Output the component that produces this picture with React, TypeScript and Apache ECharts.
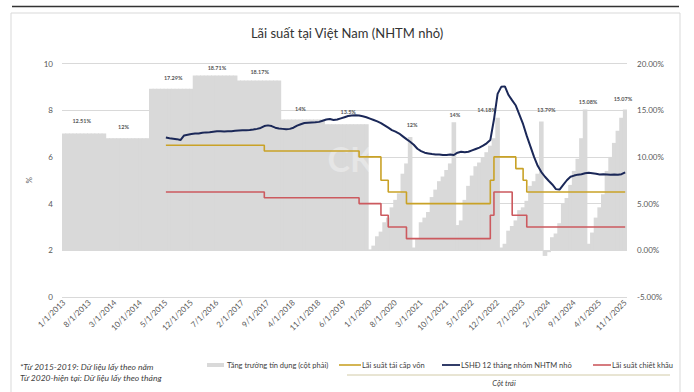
import React, { useEffect, useRef } from "react";
import * as echarts from "echarts";

// ---- categories: monthly, Jan 2013 .. Nov 2025 ----
const firstYear = 2013;
const monthCount = 155;
const categories: string[] = [];
for (let i = 0; i < monthCount; i++) {
  categories.push(`${(i % 12) + 1}/1/${firstYear + Math.floor(i / 12)}`);
}

// ---- credit growth (right axis, %) ----
// 2013-2019: annual figures (shown as yearly blocks)
const annualYears = [2013, 2014, 2015, 2016, 2017, 2018, 2019];
const annualGrowth = [12.51, 12, 17.29, 18.71, 18.17, 14, 13.5];
// 2020-now: year-to-date monthly figures
const growth2020 = [0.1, 0.5, 1.5, 2.0, 3.0, 3.5, 4.6, 5.4, 6.1, 8.2, 9.3, 12.13];
const growth2021 = [0.3, 1.2, 3.0, 3.5, 4.1, 5.7, 6.5, 7.4, 7.9, 8.6, 9.3, 13.7];
const growth2022 = [2.7, 3.2, 5.4, 6.9, 8.0, 9.0, 9.4, 9.9, 10.5, 11.2, 12.0, 14.18];
const growth2023 = [0.3, 0.7, 2.1, 2.6, 3.2, 4.3, 4.6, 5.3, 6.9, 7.4, 8.2, 13.79];
const growth2024 = [-0.6, -0.2, 1.4, 1.8, 2.9, 5.0, 5.6, 7.0, 8.5, 9.8, 12.0, 15.08];
const growth2025 = [0.7, 1.9, 3.5, 4.6, 6.0, 8.5, 10.0, 11.5, 12.8, 14.2, 15.07];

// bar value labels
const labelDates = ["7/1/2013", "7/1/2014", "7/1/2015", "7/1/2016", "7/1/2017", "7/1/2018", "7/1/2019",
  "12/1/2020", "12/1/2021", "12/1/2022", "12/1/2023", "12/1/2024", "11/1/2025"];
const labelTexts = ["12.51%", "12%", "17.29%", "18.71%", "18.17%", "14%", "13.5%",
  "12%", "14%", "14.18%", "13.79%", "15.08%", "15.07%"];
const labelDx = [-4, -6, 0, 0, -1, -4, 0, 2, 1, -11, 5, 3, -2];
const labelDist = [9, 8, 8, 5, 6, 8, 9, 9, 4, 5, 9, 4, 8];

// ---- policy rates (left axis, %) : change points ----
const refinancingDates = ["5/1/2015", "8/1/2017", "10/1/2019", "4/1/2020", "6/1/2020", "11/1/2020",
  "10/1/2022", "11/1/2022", "5/1/2023", "7/1/2023", "8/1/2023", "11/1/2025"];
const refinancingRates = [6.5, 6.25, 6.0, 5.0, 4.5, 4.0, 5.0, 6.0, 5.5, 5.0, 4.5, 4.5];

const discountDates = ["5/1/2015", "8/1/2017", "10/1/2019", "4/1/2020", "6/1/2020", "11/1/2020",
  "10/1/2022", "11/1/2022", "4/1/2023", "8/1/2023", "11/1/2025"];
const discountRates = [4.5, 4.25, 4.0, 3.5, 3.0, 2.5, 3.5, 4.5, 3.5, 3.0, 3.0];

// ---- 12-month deposit rate, small commercial banks (monthly from 5/2015) ----
const depositStart = "5/1/2015";
const deposit12m = [
  6.83, 6.80, 6.78, 6.76, 6.72, 6.92, 6.95, 6.98,
  7.00, 7.00, 7.03, 7.05, 7.06, 7.08, 7.10, 7.10, 7.09, 7.10, 7.10, 7.12,
  7.13, 7.14, 7.14, 7.15, 7.17, 7.20, 7.24, 7.32, 7.35, 7.32, 7.25, 7.22,
  7.20, 7.18, 7.20, 7.25, 7.34, 7.40, 7.45, 7.46, 7.47, 7.48, 7.50, 7.55,
  7.60, 7.62, 7.58, 7.60, 7.65, 7.70, 7.75, 7.77, 7.78, 7.77, 7.74, 7.70,
  7.64, 7.58, 7.52, 7.45, 7.35, 7.25, 7.15, 7.08, 7.00, 6.88, 6.76, 6.65,
  6.52, 6.35, 6.25, 6.18, 6.15, 6.12, 6.10, 6.10, 6.08, 6.08, 6.10, 6.08,
  6.18, 6.22, 6.20, 6.22, 6.28, 6.34, 6.40, 6.48, 6.58, 6.72, 7.60, 8.70,
  9.00, 9.02, 8.65, 8.42, 8.20, 7.80, 7.40, 6.90, 6.45, 6.00, 5.62, 5.35,
  5.15, 4.98, 4.82, 4.62, 4.60, 4.80, 5.00, 5.15, 5.20, 5.24, 5.26, 5.30,
  5.32, 5.30, 5.28, 5.25, 5.26, 5.25, 5.24, 5.25, 5.24, 5.26, 5.34,
];

const leftTicks = { min: 0, max: 10, interval: 2 };
const rightTicks = { min: -5, max: 20, interval: 5 };

const FONT = "Lato, 'Noto Sans', sans-serif";

function buildBarData() {
  const values: number[] = [];
  annualYears.forEach((_, k) => {
    for (let m = 0; m < 12; m++) values.push(annualGrowth[k]);
  });
  [growth2020, growth2021, growth2022, growth2023, growth2024, growth2025].forEach((arr) =>
    arr.forEach((v) => values.push(v))
  );
  return values.map((v, i) => {
    const li = labelDates.indexOf(categories[i]);
    if (li < 0) return v;
    return {
      value: v,
      label: {
        show: true,
        position: "top",
        distance: labelDist[li],
        offset: [labelDx[li], 0],
        formatter: labelTexts[li],
        fontSize: 5.5,
        fontWeight: "bold",
        color: "#555",
        fontFamily: FONT,
      },
    };
  });
}

export default function App() {
  const ref = useRef<HTMLDivElement>(null);
  useEffect(() => {
    if (!ref.current) return;
    const chart = echarts.init(ref.current, undefined, { renderer: "svg" });
    const depIdx = categories.indexOf(depositStart);
    const option: any = {
      animation: false,
      backgroundColor: "#fff",
      textStyle: { fontFamily: FONT },
      title: {
        text: "Lãi suất tại Việt Nam (NHTM nhỏ)",
        left: "center",
        top: 21,
        textStyle: { fontSize: 13, fontWeight: "normal", color: "#333", fontFamily: FONT },
      },
      grid: { left: 62, right: 67, top: 63.5, bottom: 95 },
      xAxis: {
        type: "category",
        data: categories,
        axisLine: { show: false },
        axisTick: { show: false },
        axisLabel: { interval: 6, rotate: 45, fontSize: 8, color: "#595959", margin: 4, fontFamily: FONT },
      },
      yAxis: [
        {
          type: "value",
          ...leftTicks,
          name: "%",
          nameLocation: "middle",
          nameGap: 24,
          nameRotate: 90,
          nameTextStyle: { fontSize: 8, color: "#595959" },
          axisLine: { show: false },
          axisTick: { show: false },
          axisLabel: { fontSize: 8, color: "#595959", margin: 9, fontFamily: FONT },
          splitLine: { lineStyle: { color: "#d9d9d9", width: 1 } },
        },
        {
          type: "value",
          ...rightTicks,
          axisLine: { show: false },
          axisTick: { show: false },
          axisLabel: { fontSize: 8, color: "#595959", margin: 10, formatter: "{value}.00%", fontFamily: FONT },
          splitLine: { show: false },
        },
      ],
      series: [
        {
          name: "Tăng trưởng tín dụng (cột phải)",
          type: "bar",
          yAxisIndex: 1,
          barWidth: 4.6,
          itemStyle: { color: "#d9d9d9" },
          data: buildBarData(),
        },
        {
          name: "Lãi suất tái cấp vốn",
          type: "line",
          step: "end",
          showSymbol: false,
          lineStyle: { color: "#c9a227", width: 1.6 },
          data: refinancingDates.map((d, i) => [categories.indexOf(d), refinancingRates[i]]),
        },
        {
          name: "LSHĐ 12 tháng nhóm NHTM nhỏ",
          type: "line",
          showSymbol: false,
          lineStyle: { color: "#1b2858", width: 2 },
          data: deposit12m.map((v, i) => [depIdx + i, v]),
        },
        {
          name: "Lãi suất chiết khấu",
          type: "line",
          step: "end",
          showSymbol: false,
          lineStyle: { color: "#cc5a5f", width: 1.6 },
          data: discountDates.map((d, i) => [categories.indexOf(d), discountRates[i]]),
        },
      ],
      graphic: [
        { type: "line", shape: { x1: 12, y1: 6.5, x2: 679, y2: 6.5 }, style: { stroke: "#333", lineWidth: 1.5 } },
        { type: "rect", shape: { x: 11, y: 13, width: 669, height: 400 }, style: { fill: "none", stroke: "#d9d9d9", lineWidth: 1 } },
        {
          type: "text", x: 362, y: 158, z: 3,
          style: { text: "CKG", fontSize: 34, fontFamily: FONT, fill: "rgba(255,255,255,0.35)", textAlign: "center", textVerticalAlign: "middle", fontWeight: "bold" },
        },
        // legend
        { type: "rect", shape: { x: 207, y: 363, width: 17, height: 4 }, style: { fill: "#d9d9d9" } },
        { type: "text", x: 227, y: 365, style: { text: "Tăng trưởng tín dụng (cột phải)", fontSize: 7.5, fill: "#404040", fontFamily: FONT, textVerticalAlign: "middle" } },
        { type: "line", shape: { x1: 339, y1: 365, x2: 361, y2: 365 }, style: { stroke: "#c9a227", lineWidth: 1.6 } },
        { type: "text", x: 362, y: 365, style: { text: "Lãi suất tái cấp vốn", fontSize: 7.5, fill: "#404040", fontFamily: FONT, textVerticalAlign: "middle" } },
        { type: "line", shape: { x1: 442, y1: 365, x2: 460, y2: 365 }, style: { stroke: "#1b2858", lineWidth: 1.8 } },
        { type: "text", x: 461, y: 365, style: { text: "LSHĐ 12 tháng nhóm NHTM nhỏ", fontSize: 7.5, fill: "#404040", fontFamily: FONT, textVerticalAlign: "middle" } },
        { type: "line", shape: { x1: 593, y1: 365, x2: 611, y2: 365 }, style: { stroke: "#cc5a5f", lineWidth: 1.6 } },
        { type: "text", x: 612, y: 365, style: { text: "Lãi suất chiết khấu", fontSize: 7.5, fill: "#404040", fontFamily: FONT, textVerticalAlign: "middle" } },
        { type: "line", shape: { x1: 347, y1: 375, x2: 670, y2: 375 }, style: { stroke: "#d2cba8", lineWidth: 1 } },
        { type: "text", x: 504, y: 383, style: { text: "Cột trái", fontSize: 7.5, fontStyle: "italic", fill: "#404040", fontFamily: FONT, textAlign: "center", textVerticalAlign: "middle" } },
        // footnote
        { type: "text", x: 20, y: 367, style: { text: "*Từ 2015-2019: Dữ liệu lấy theo năm", fontSize: 8.5, fontStyle: "italic", fill: "#404040", fontFamily: FONT, textVerticalAlign: "middle" } },
        { type: "text", x: 20, y: 378, style: { text: "Từ 2020-hiện tại: Dữ liệu lấy theo tháng", fontSize: 8.5, fontStyle: "italic", fill: "#404040", fontFamily: FONT, textVerticalAlign: "middle" } },
      ],
    };
    chart.setOption(option);
    return () => chart.dispose();
  }, []);
  return (
    <div
      ref={ref}
      style={{ position: "fixed", left: 0, top: 0, width: 694, height: 392, background: "#fff" }}
    />
  );
}
